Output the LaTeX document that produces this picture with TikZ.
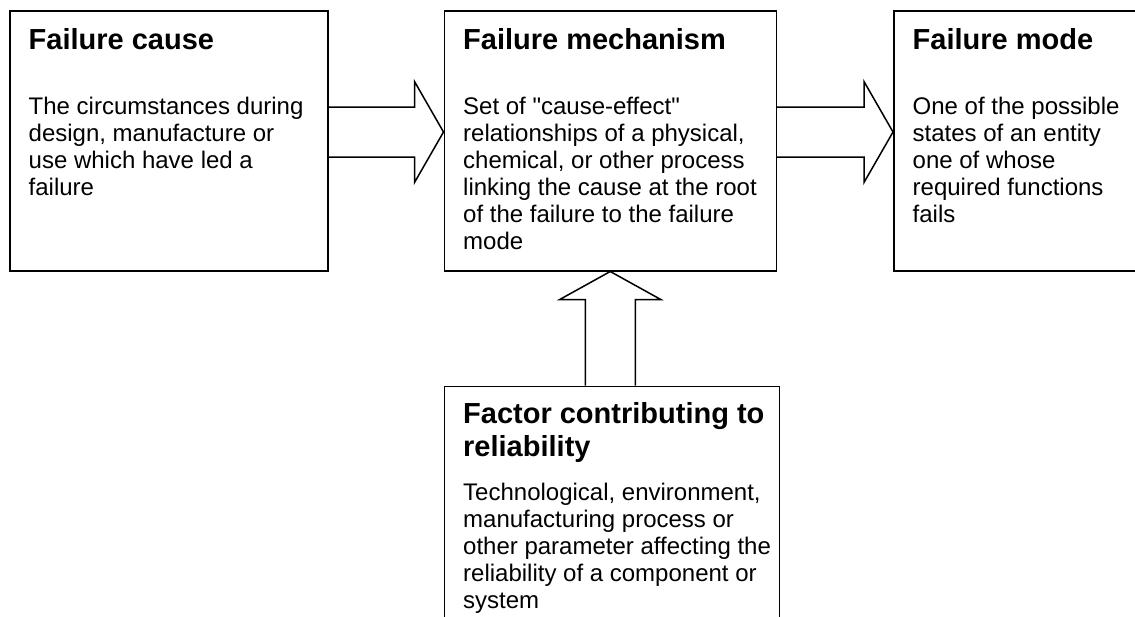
\documentclass[tikz,border=0pt]{standalone}
\usepackage{fontspec}
\setmainfont{Liberation Sans}
\usetikzlibrary{positioning, calc}
\tikzset{
  box/.style={draw, rectangle, line width=1.5pt, inner sep=0pt,
              minimum width=318pt, minimum height=260pt},
  head/.style={font=\fontsize{29}{33.4}\selectfont\bfseries, align=left,
               inner sep=0pt, anchor=base west},
  body/.style={font=\fontsize{24}{27}\selectfont, align=left,
               inner sep=0pt, anchor=base west},
  fatarrow/.style={draw, line width=1.5pt, line join=miter},
}

\begin{document}
\begin{tikzpicture}[x=1pt, y=-1pt]
        \useasboundingbox (0,0) rectangle (1135,616);
        \clip (0,0) rectangle (1135,616);

        % boxes
        \node[box, anchor=north west] (cause) at (9,10) {};
        \node[box, minimum width=332pt, right=115pt of cause] (mech) {};
        \node[box, minimum width=244pt, right=116pt of mech] (mode) {};
        \node[box, minimum width=335pt, below=114pt of mech.south west,
              anchor=north west] (factor) {};

        % texts (base = baseline of the last line)
        \node[head] (causeT) at ([shift={(19.5,39)}]cause.north west) {Failure cause};
        \node[body] (causeB) at ([shift={(19.5,185)}]cause.north west)
              {The circumstances during\\design, manufacture or\\use which have led a\\failure};
        \node[head] (mechT) at ([shift={(19.5,39)}]mech.north west) {Failure mechanism};
        \node[body] (mechB) at ([shift={(19.5,239)}]mech.north west)
              {Set of \textquotedbl cause-effect\textquotedbl\\relationships of a physical,\\chemical, or other process\\linking the cause at the root\\of the failure to the failure\\mode};
        \node[head] (modeT) at ([shift={(19.5,39)}]mode.north west) {Failure mode};
        \node[body] (modeB) at ([shift={(19.5,212)}]mode.north west)
              {One of the possible\\states of an entity\\one of whose\\required functions\\fails};
        \node[head] (factorT) at ([shift={(19.5,71.4)}]factor.north west)
              {Factor contributing to\\reliability};
        \node[body] (factorB) at ([shift={(19.5,223)}]factor.north west)
              {Technological, environment,\\manufacturing process or\\other parameter affecting the\\reliability of a component or\\system};

        % arrows
        \coordinate (a1) at ($(cause.north east)+(0,122)$);
        \coordinate (a2) at ($(mech.north west)+(0,122)$);
        \draw[fatarrow] ($(a1)+(0,-25)$) -- ($(a2)+(-29,-25)$) -- ($(a2)+(-29,-50.5)$)
              -- (a2) -- ($(a2)+(-29,50.5)$) -- ($(a2)+(-29,25)$) -- ($(a1)+(0,25)$);

        \coordinate (b1) at ($(mech.north east)+(0,122)$);
        \coordinate (b2) at ($(mode.north west)+(0,122)$);
        \draw[fatarrow] ($(b1)+(0,-25)$) -- ($(b2)+(-29,-25)$) -- ($(b2)+(-29,-50.5)$)
              -- (b2) -- ($(b2)+(-29,50.5)$) -- ($(b2)+(-29,25)$) -- ($(b1)+(0,25)$);

        \coordinate (c1) at (mech.south |- factor.north);
        \draw[fatarrow] ($(c1)+(-25,0)$) -- ($(mech.south)+(-25,28)$) -- ($(mech.south)+(-50.5,28)$)
              -- (mech.south) -- ($(mech.south)+(50.5,28)$) -- ($(mech.south)+(25,28)$) -- ($(c1)+(25,0)$);
\end{tikzpicture}
\end{document}
